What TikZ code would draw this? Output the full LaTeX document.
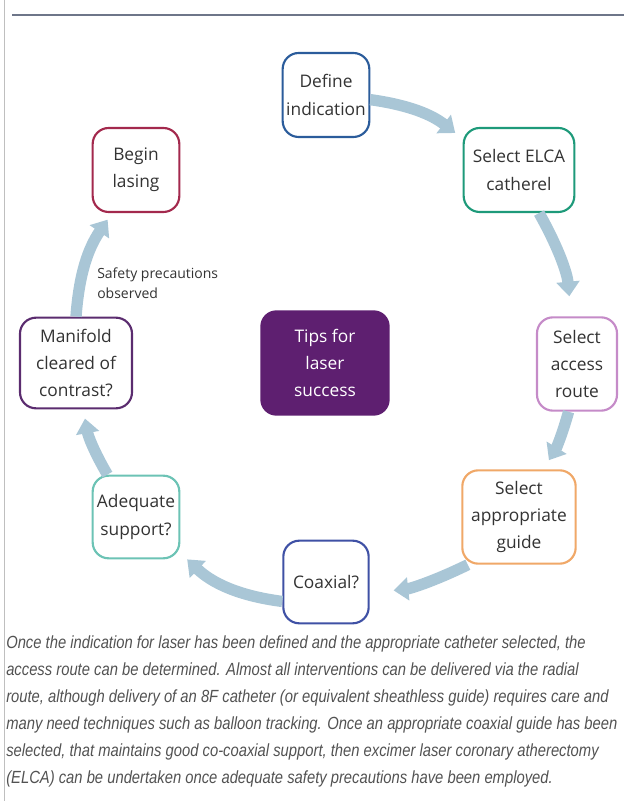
\documentclass[tikz,border=0pt]{standalone}
\usepackage{fontspec}
\setmainfont{Open Sans}
\newfontfamily\capfont[FakeStretch=0.84]{Liberation Sans}
\usetikzlibrary{arrows.meta}
\definecolor{cDefine}{HTML}{2B5C9B}
\definecolor{cElca}{HTML}{1E9A7A}
\definecolor{cBegin}{HTML}{A3294D}
\definecolor{cManifold}{HTML}{5B2C6F}
\definecolor{cAccess}{HTML}{C58BC8}
\definecolor{cGuide}{HTML}{F0A868}
\definecolor{cCoaxial}{HTML}{3F51A5}
\definecolor{cAdequate}{HTML}{6CC3B5}
\definecolor{cTips}{HTML}{5E1F70}
\definecolor{cFlow}{HTML}{A9C6D6}
\definecolor{cRule}{HTML}{6E7689}
\definecolor{cText}{HTML}{333333}
\tikzset{
  stepbox/.style={draw=#1, line width=1.6pt, rounded corners=12pt, fill=white,
    align=center, inner sep=0pt, text=cText,
    font=\fontsize{13}{20.5}\selectfont},
  flow/.style={draw=cFlow, line width=8.5pt, -{Triangle[width=17pt,length=11pt]}},
}
\begin{document}
\begin{tikzpicture}[x=0.75pt,y=0.75pt]
 \useasboundingbox (0,0) rectangle (624,801);
 % frame
 \draw[black!25, line width=0.75pt] (4,0) -- (4,801);
 \draw[cRule, line width=1.5pt] (12,786) -- (624,786);
 % steps round the cycle
 \node[stepbox=cDefine, minimum width=65pt, minimum height=63pt] (define) at (326,706) {Define\\indication};
 \node[stepbox=cElca, minimum width=83pt, minimum height=63pt] (elca) at (519,631) {Select ELCA\\catherel};
 \node[stepbox=cAccess, minimum width=60pt, minimum height=70pt] (access) at (577,437) {Select\\access\\route};
 \node[stepbox=cGuide, minimum width=85pt, minimum height=70pt] (guide) at (519,284) {Select\\appropriate\\guide};
 \node[stepbox=cCoaxial, minimum width=64pt, minimum height=62pt] (coaxial) at (326,219) {Coaxial?};
 \node[stepbox=cAdequate, minimum width=65pt, minimum height=62pt] (adequate) at (136,284) {Adequate\\support?};
 \node[stepbox=cManifold, minimum width=84pt, minimum height=68pt] (manifold) at (76,438) {Manifold\\cleared of\\contrast?};
 \node[stepbox=cBegin, minimum width=65pt, minimum height=63pt] (begin) at (136,631) {Begin\\lasing};
 % centre
 \node[fill=cTips, rounded corners=12pt, minimum width=97pt, minimum height=79pt, align=center,
   text=white, font=\fontsize{13}{20.5}\selectfont] (tips) at (325,438) {Tips for\\laser\\success};
 \node[anchor=west, align=left, inner sep=0pt, text=cText, font=\fontsize{10.5}{15}\selectfont] (safety) at (97,518) {Safety precautions\\observed};
 % arrows
 \draw[flow, shorten >=7pt] (define.-6) to[bend left=15] (elca.151);
 \draw[flow, shorten >=15pt] (elca.-65) to[bend left=12] (access.97);
 \draw[flow, shorten >=8pt] (access.-100) to[bend left=8] (guide.63);
 \draw[flow, shorten >=18pt] (guide.223) to[bend left=10] (coaxial.-14);
 \draw[flow, shorten >=7pt] (coaxial.204) to[bend left=18] (adequate.-39);
 \draw[flow, shorten >=7pt] (adequate.124) to[bend left=10] (manifold.-81);
 \draw[flow, shorten >=6pt] (manifold.90) to[bend left=15] (begin.-119);
 % caption
 \node[anchor=north west, align=left, inner sep=0pt, text=black!68,
   font=\capfont\itshape\fontsize{13.2}{20.25}\selectfont] (caption) at (6,166)
  {Once the indication for laser has been defined and the appropriate catheter selected, the\\
   access route can be determined. Almost all interventions can be delivered via the radial\\
   route, although delivery of an 8F catheter (or equivalent sheathless guide) requires care and\\
   many need techniques such as balloon tracking. Once an appropriate coaxial guide has been\\
   selected, that maintains good co-coaxial support, then excimer laser coronary atherectomy\\
   (ELCA) can be undertaken once adequate safety precautions have been employed.};
\end{tikzpicture}
\end{document}
